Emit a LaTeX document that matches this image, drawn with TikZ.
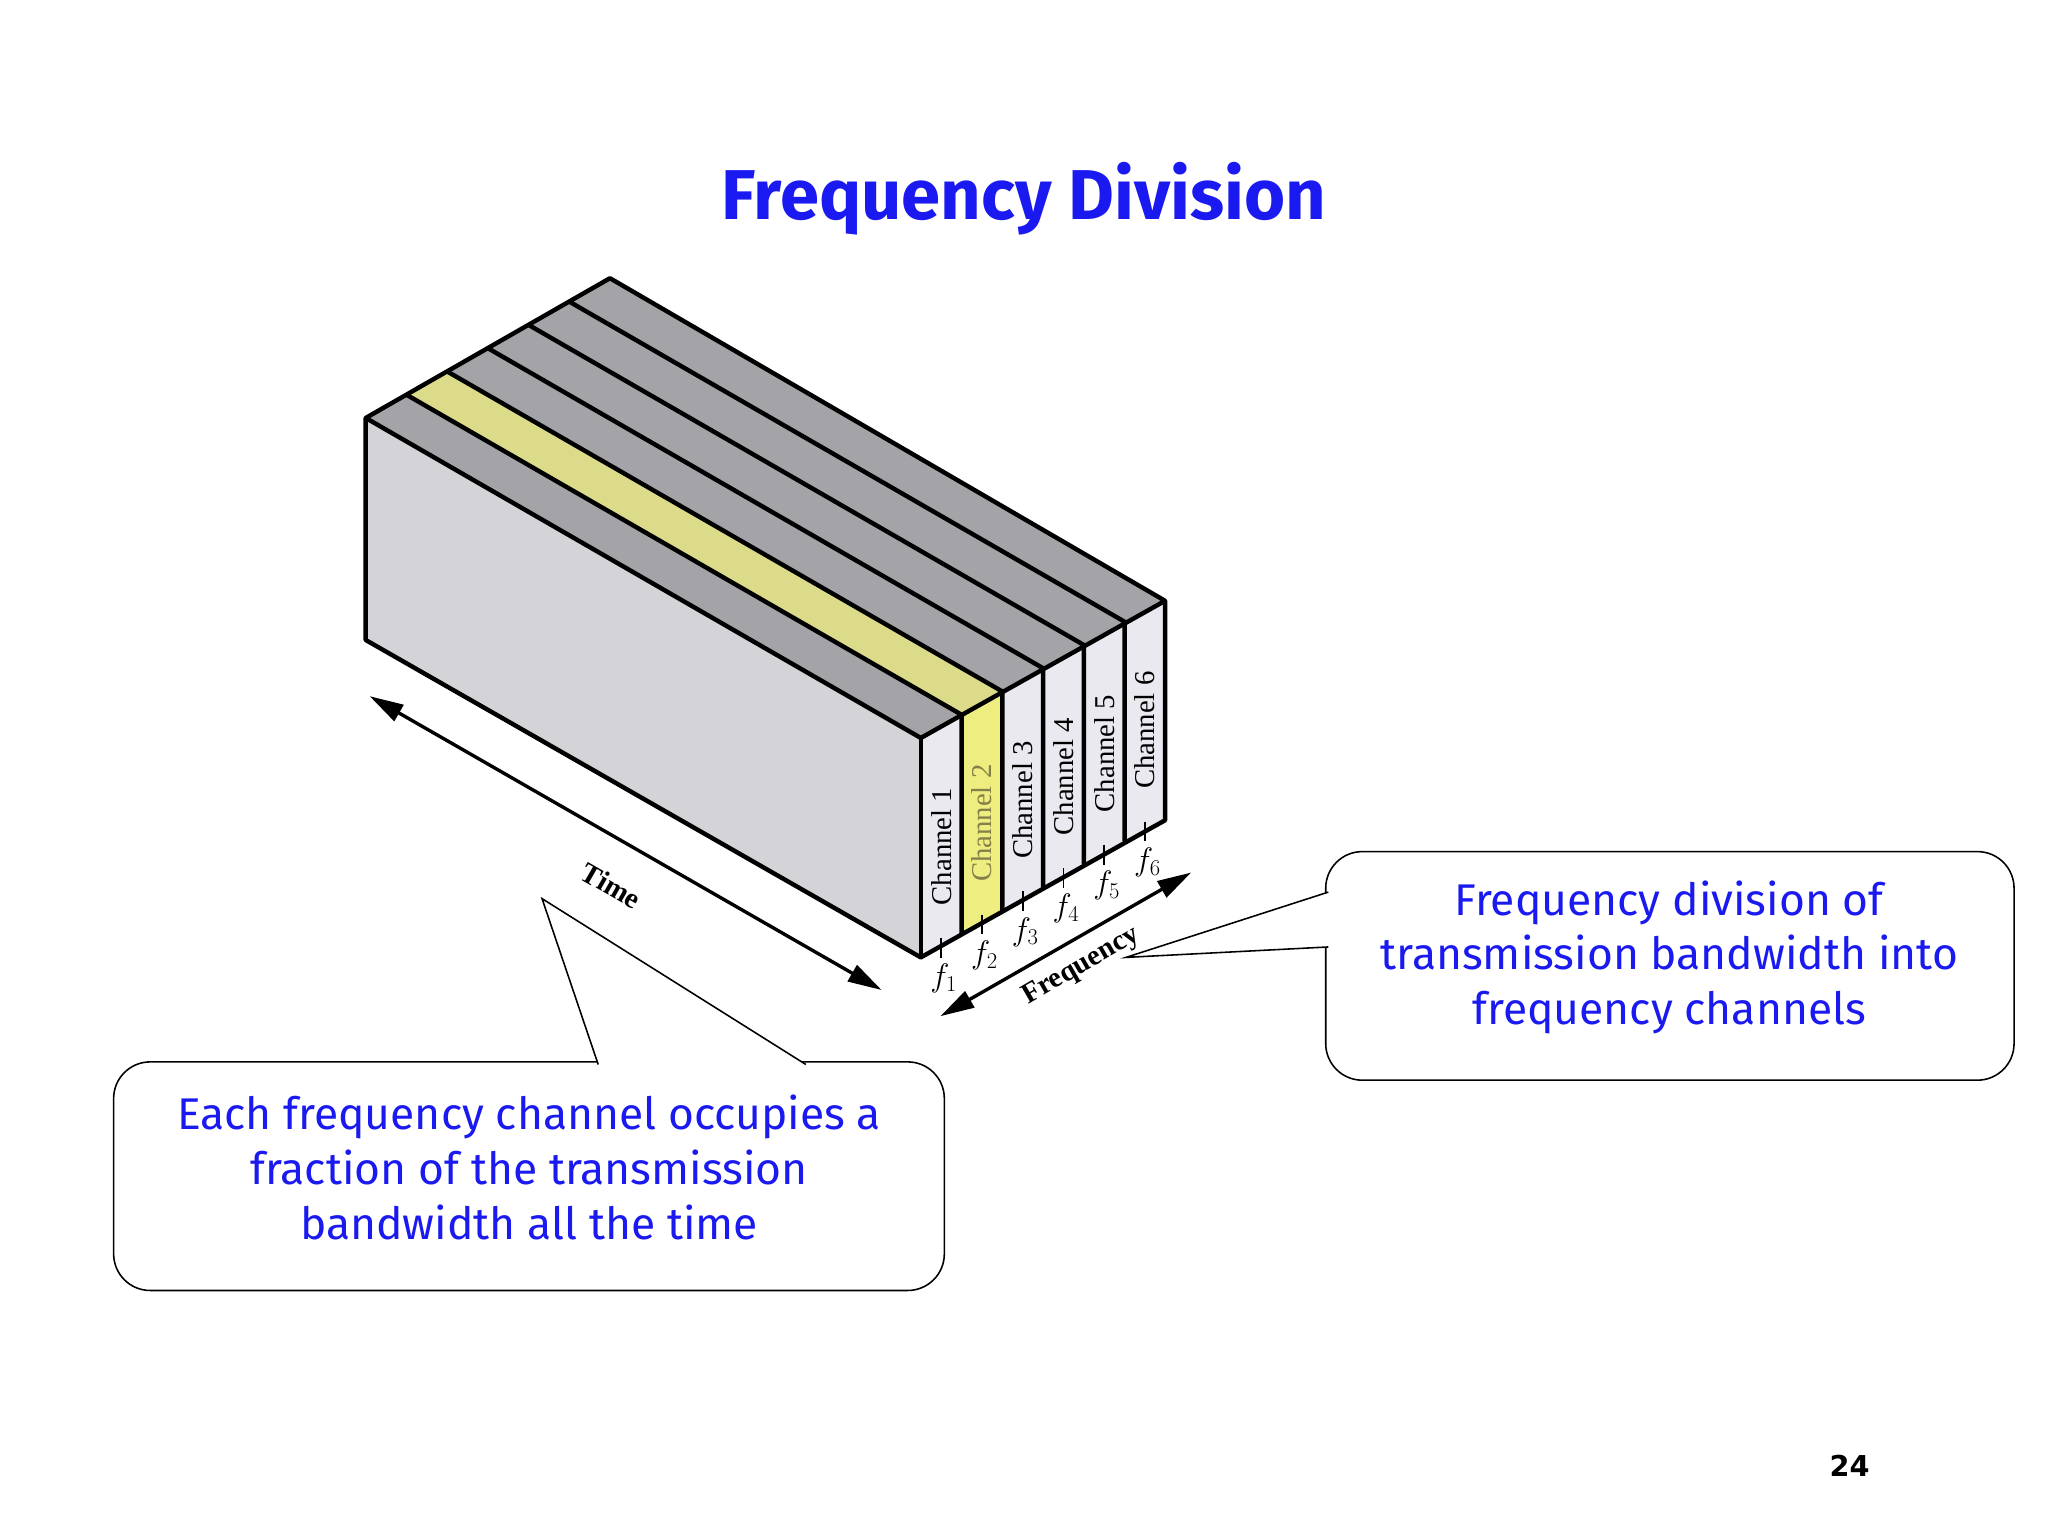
\documentclass[tikz,border=0pt]{standalone}
\usepackage{fontspec}
\setmainfont{Liberation Serif}
\newfontfamily\comic{Fira Sans}
\newfontfamily\numfont{DejaVu Sans}
\usetikzlibrary{arrows.meta,calc}
\definecolor{tblue}{HTML}{1A1AF0}
\definecolor{topgray}{HTML}{A3A3A8}
\definecolor{frontgray}{HTML}{D3D3D8}
\definecolor{chface}{HTML}{E9E9EF}
\definecolor{hl}{HTML}{EEEE80}
\tikzset{
  callout/.style={draw=black, line width=1.2pt, fill=white, rounded corners=28pt},
  ctext/.style={font=\comic\fontsize{34}{42}\selectfont, text=tblue, align=center},
  edge/.style={line width=3.4pt, line join=round},
  chlabel/.style={font=\fontsize{22}{22}\selectfont, rotate=90},
  flabel/.style={font=\itshape\fontsize{23}{23}\selectfont},
  axarrow/.style={line width=2.6pt, {Triangle[length=26pt,width=14pt]}-{Triangle[length=26pt,width=14pt]}}
}
\begin{document}
\begin{tikzpicture}[x=1pt,y=-1pt]
\useasboundingbox (0,0) rectangle (1568,1176);
\fill[white] (0,0) rectangle (1568,1176);
\node[font=\comic\bfseries\fontsize{54}{58}\selectfont, text=tblue] (title) at (784,152) {Frequency Division};
% box
\coordinate (A) at (280,320); \coordinate (B) at (467,213);
\coordinate (C) at (892,460); \coordinate (D) at (705,565);
\coordinate (E) at (280,490); \coordinate (F) at (705,733); \coordinate (G) at (892,628);
\fill[topgray] (A)--(B)--(C)--(D)--cycle;
\fill[hl,opacity=0.75] ($(A)+(31.2,-17.8)$)--($(A)+(62.4,-35.6)$)--($(D)+(62.4,-35.6)$)--($(D)+(31.2,-17.8)$)--cycle;
\fill[frontgray] (A)--(D)--(F)--(E)--cycle;
\fill[chface] (D)--(C)--(G)--(F)--cycle;
\fill[hl] ($(D)+(31.2,-17.8)$)--($(D)+(62.4,-35.6)$)--($(F)+(62.4,-35.6)$)--($(F)+(31.2,-17.8)$)--cycle;
\foreach \k in {1,...,5}{
  \draw[edge] ($(A)+(31.2*\k,-17.8*\k)$)--($(D)+(31.2*\k,-17.8*\k)$)--($(F)+(31.2*\k,-17.8*\k)$);
}
\draw[edge] (A)--(B)--(C)--(G)--(F)--(E)--cycle;
\draw[edge] (A)--(D)--(C); \draw[edge] (D)--(F);
\foreach \k/\c in {1/black,2/{yellow!45!black},3/black,4/black,5/black,6/black}{
  \pgfmathsetmacro{\cx}{705+31.2*(\k-0.5)}
  \pgfmathsetmacro{\cy}{649-17.8*(\k-0.5)}
  \pgfmathsetmacro{\by}{733-17.8*(\k-0.5)}
  \node[chlabel, text=\c] (ch\k) at (\cx,\cy+8) {Channel \k};
  \draw[line width=1.3pt] (\cx,\by-6) -- (\cx,\by+9);
  \node[flabel] (f\k) at (\cx+2,\by+25) {$f_{\k}$};
}
% axes
\coordinate (t1) at (283,533); \coordinate (t2) at (675,758);
\draw[axarrow] (t1)--(t2);
\node[font=\bfseries\fontsize{22}{22}\selectfont, rotate=-30] (time) at (468,678) {Time};
\coordinate (q1) at (720,778); \coordinate (q2) at (912,668);
\draw[axarrow] (q1)--(q2);
\node[font=\bfseries\fontsize{22}{22}\selectfont, rotate=30] (freq) at (828,740) {Frequency};
% callouts
\draw[callout] (87,813) rectangle (723,988);
\draw[line width=1.2pt, fill=white] (458,815)--(415,688)--(617,815);
\node[ctext] (lt) at (405,894) {Each frequency channel occupies a\\fraction of the transmission\\bandwidth all the time};
\draw[callout] (1015,652) rectangle (1542,827);
\draw[line width=1.2pt, fill=white] (1017,683)--(862,733)--(1017,725);
\node[ctext] (rt) at (1278,733) {Frequency division of\\transmission bandwidth into\\frequency channels};
\node[font=\numfont\bfseries\fontsize{22}{22}\selectfont] (pg) at (1416,1122) {24};
\end{tikzpicture}
\end{document}
